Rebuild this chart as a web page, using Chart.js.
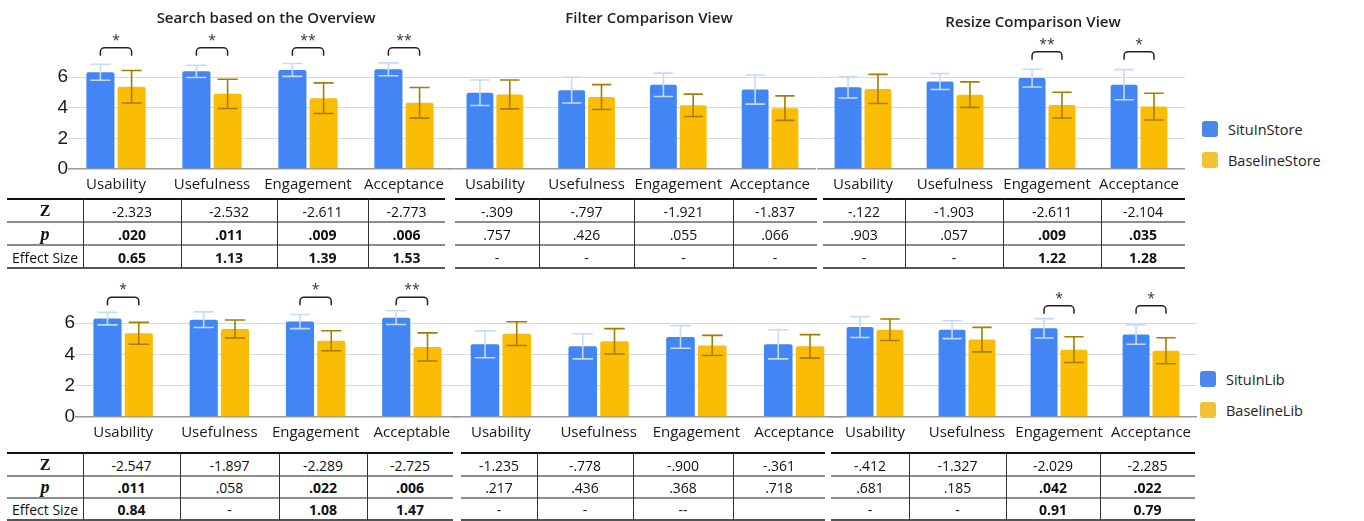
<!DOCTYPE html>
<html>
<head>
<meta charset="utf-8">
<script src="https://cdn.jsdelivr.net/npm/chart.js@4.4.1/dist/chart.umd.min.js"></script>
<style>
  body { margin: 0; background: #fff; width: 1364px; height: 521px; overflow: hidden; position: relative; font-family: 'Open Sans', sans-serif; }
  canvas { position: absolute; }
  .ttl { position: absolute; font-size: 15px; font-weight: 600; color: #222; transform: translate(-50%, -50%); white-space: nowrap; }
  .cell { position: absolute; display: flex; align-items: center; justify-content: center; font-size: 14px; color: #111; white-space: nowrap; }
  .cell.b { font-weight: 700; }
  .hl { position: absolute; }
  .vl { position: absolute; width: 1px; background: #333; }
  .lg { position: absolute; font-size: 14.5px; color: #222; transform: translateY(-50%); white-space: nowrap; }
  .sw { position: absolute; width: 16px; height: 16px; border-radius: 3px; }
</style>
</head>
<body>
<script>
// ---- data ----
const storeCats = ['Usability', 'Usefulness', 'Engagement', 'Acceptance'];
const libOverviewCats = ['Usability', 'Usefulness', 'Engagement', 'Acceptable'];
const titles = ['Search based on the Overview', 'Filter Comparison View', 'Resize Comparison View'];
const storeSeries = ['SituInStore', 'BaselineStore'];
const libSeries = ['SituInLib', 'BaselineLib'];
const yTicks = [0, 2, 4, 6];
const rowLabels = ['Z', 'p', 'Effect Size'];

// store row: means and error bars
const ovStoreSitu = [6.31, 6.37, 6.46, 6.50];
const ovStoreSituErr = [0.52, 0.40, 0.42, 0.42];
const ovStoreBase = [5.36, 4.90, 4.62, 4.32];
const ovStoreBaseErr = [1.06, 0.95, 1.00, 1.00];
const fiStoreSitu = [4.97, 5.14, 5.49, 5.18];
const fiStoreSituErr = [0.83, 0.84, 0.76, 0.95];
const fiStoreBase = [4.86, 4.69, 4.15, 3.97];
const fiStoreBaseErr = [0.94, 0.81, 0.73, 0.80];
const reStoreSitu = [5.33, 5.70, 5.93, 5.50];
const reStoreSituErr = [0.70, 0.52, 0.58, 0.98];
const reStoreBase = [5.22, 4.85, 4.17, 4.07];
const reStoreBaseErr = [0.95, 0.83, 0.84, 0.87];

// lib row
const ovLibSitu = [6.28, 6.21, 6.09, 6.34];
const ovLibSituErr = [0.40, 0.50, 0.45, 0.44];
const ovLibBase = [5.34, 5.62, 4.87, 4.47];
const ovLibBaseErr = [0.70, 0.57, 0.64, 0.90];
const fiLibSitu = [4.64, 4.51, 5.11, 4.64];
const fiLibSituErr = [0.86, 0.80, 0.72, 0.93];
const fiLibBase = [5.32, 4.83, 4.57, 4.51];
const fiLibBaseErr = [0.76, 0.81, 0.64, 0.75];
const reLibSitu = [5.74, 5.57, 5.66, 5.26];
const reLibSituErr = [0.67, 0.57, 0.62, 0.62];
const reLibBase = [5.57, 4.94, 4.30, 4.23];
const reLibBaseErr = [0.69, 0.78, 0.82, 0.83];

// significance marks
const ovStoreSig = ['*', '*', '**', '**'];
const fiStoreSig = ['', '', '', ''];
const reStoreSig = ['', '', '**', '*'];
const ovLibSig = ['*', '', '*', '**'];
const fiLibSig = ['', '', '', ''];
const reLibSig = ['', '', '*', '*'];

// test tables
const ovStoreZ = ['-2.323', '-2.532', '-2.611', '-2.773'];
const ovStoreP = ['.020', '.011', '.009', '.006'];
const ovStoreEff = ['0.65', '1.13', '1.39', '1.53'];
const fiStoreZ = ['-.309', '-.797', '-1.921', '-1.837'];
const fiStoreP = ['.757', '.426', '.055', '.066'];
const fiStoreEff = ['-', '-', '-', '-'];
const reStoreZ = ['-.122', '-1.903', '-2.611', '-2.104'];
const reStoreP = ['.903', '.057', '.009', '.035'];
const reStoreEff = ['-', '-', '1.22', '1.28'];
const ovLibZ = ['-2.547', '-1.897', '-2.289', '-2.725'];
const ovLibP = ['.011', '.058', '.022', '.006'];
const ovLibEff = ['0.84', '-', '1.08', '1.47'];
const fiLibZ = ['-1.235', '-.778', '-.900', '-.361'];
const fiLibP = ['.217', '.436', '.368', '.718'];
const fiLibEff = ['-', '-', '--', ''];
const reLibZ = ['-.412', '-1.327', '-2.029', '-2.285'];
const reLibP = ['.681', '.185', '.042', '.022'];
const reLibEff = ['-', '-', '0.91', '0.79'];

// ---- layout ----
const BLUE = '#4285f4', YELLOW = '#fbbc04';

const panels = [
  { cats: storeCats, names: storeSeries, a: ovStoreSitu, aErr: ovStoreSituErr, b: ovStoreBase, bErr: ovStoreBaseErr, sig: ovStoreSig, level: 7.9,  left: 0,   axisW: 68, right: 452,  top: 0,   h: 198, padTop: 31 },
  { cats: storeCats, names: storeSeries, a: fiStoreSitu, aErr: fiStoreSituErr, b: fiStoreBase, bErr: fiStoreBaseErr, sig: fiStoreSig, level: 7.7,  left: 449, axisW: 0,  right: 817,  top: 0,   h: 198, padTop: 31 },
  { cats: storeCats, names: storeSeries, a: reStoreSitu, aErr: reStoreSituErr, b: reStoreBase, bErr: reStoreBaseErr, sig: reStoreSig, level: 7.65, left: 817, axisW: 0,  right: 1186, top: 0,   h: 198, padTop: 31 },
  { cats: libOverviewCats, names: libSeries, a: ovLibSitu, aErr: ovLibSituErr, b: ovLibBase, bErr: ovLibBaseErr, sig: ovLibSig, level: 7.65, left: 0,   axisW: 75, right: 460,  top: 260, h: 186, padTop: 16 },
  { cats: storeCats, names: libSeries, a: fiLibSitu, aErr: fiLibSituErr, b: fiLibBase, bErr: fiLibBaseErr, sig: fiLibSig, level: 7.5,  left: 452, axisW: 0,  right: 843,  top: 260, h: 186, padTop: 16 },
  { cats: storeCats, names: libSeries, a: reLibSitu, aErr: reLibSituErr, b: reLibBase, bErr: reLibBaseErr, sig: reLibSig, level: 7.1,  left: 829, axisW: 0,  right: 1198, top: 260, h: 186, padTop: 16 }
];

const errorBars = {
  id: 'errorBars',
  afterDatasetsDraw(chart, args, opts) {
    const ctx = chart.ctx, y = chart.scales.y;
    chart.data.datasets.forEach((ds, i) => {
      const meta = chart.getDatasetMeta(i);
      ctx.save();
      ctx.strokeStyle = ds.errColor;
      ctx.lineWidth = 1.6;
      meta.data.forEach((bar, j) => {
        const hi = y.getPixelForValue(ds.data[j] + ds.err[j]);
        const lo = y.getPixelForValue(ds.data[j] - ds.err[j]);
        const w = bar.width * 0.36;
        ctx.beginPath();
        ctx.moveTo(bar.x, hi); ctx.lineTo(bar.x, lo);
        ctx.moveTo(bar.x - w, hi); ctx.lineTo(bar.x + w, hi);
        ctx.moveTo(bar.x - w, lo); ctx.lineTo(bar.x + w, lo);
        ctx.stroke();
      });
      ctx.restore();
    });
    // significance brackets
    const m0 = chart.getDatasetMeta(0).data, m1 = chart.getDatasetMeta(1).data;
    ctx.save();
    ctx.strokeStyle = '#222';
    ctx.lineWidth = 1.5;
    ctx.fillStyle = '#333';
    ctx.font = '14px "Open Sans"';
    ctx.textAlign = 'center';
    ctx.textBaseline = 'middle';
    opts.sig.forEach((s, j) => {
      if (!s) return;
      const x0 = m0[j].x, x1 = m1[j].x, yt = y.getPixelForValue(opts.level), r = 4;
      ctx.beginPath();
      ctx.moveTo(x0, yt + 8);
      ctx.arcTo(x0, yt, x0 + r, yt, r);
      ctx.arcTo(x1, yt, x1, yt + r, r);
      ctx.lineTo(x1, yt + 8);
      ctx.stroke();
      ctx.fillText(s, (x0 + x1) / 2, yt - 7);
    });
    ctx.restore();
  }
};

panels.forEach((p) => {
  const cv = document.createElement('canvas');
  const w = p.right - p.left;
  cv.width = w; cv.height = p.h;
  cv.style.left = p.left + 'px';
  cv.style.top = p.top + 'px';
  cv.style.width = w + 'px';
  cv.style.height = p.h + 'px';
  document.body.appendChild(cv);
  new Chart(cv, {
    type: 'bar',
    data: {
      labels: p.cats,
      datasets: [
        { label: p.names[0], data: p.a, err: p.aErr, errColor: '#c6dafc', backgroundColor: BLUE, borderRadius: 2, categoryPercentage: 0.65, barPercentage: 0.9 },
        { label: p.names[1], data: p.b, err: p.bErr, errColor: '#a57d00', backgroundColor: YELLOW, borderRadius: 2, categoryPercentage: 0.65, barPercentage: 0.9 }
      ]
    },
    options: {
      responsive: false,
      animation: false,
      devicePixelRatio: 1,
      layout: { padding: { top: p.padTop, left: 0, right: 0, bottom: 0 } },
      plugins: {
        legend: { display: false },
        tooltip: { enabled: false },
        errorBars: { sig: p.sig, level: p.level }
      },
      scales: {
        x: {
          afterFit: (s) => { s.height = 29; },
          grid: { display: false, drawTicks: false },
          border: { display: false },
          ticks: { padding: 7, maxRotation: 0, autoSkip: false, color: '#1a1a1a', font: { family: 'Open Sans', size: 15 } }
        },
        y: {
          min: 0, max: 9,
          afterBuildTicks: (s) => { s.ticks = yTicks.map((v) => ({ value: v })); },
          afterFit: (s) => { s.width = p.axisW; },
          border: { display: false },
          grid: {
            drawTicks: false,
            color: (c) => (c.tick && c.tick.value === 0 ? '#9a9a9a' : '#d9d9d9'),
            lineWidth: (c) => (c.tick && c.tick.value === 0 ? 1.5 : 1)
          },
          ticks: { display: p.axisW > 0, padding: 0, color: '#1a1a1a', font: { family: 'Liberation Sans', size: 19 } }
        }
      }
    },
    plugins: [errorBars]
  });
});

// titles
[[266, 17], [649, 17], [1033, 21]].forEach((pos, i) => {
  const d = document.createElement('div');
  d.className = 'ttl';
  d.style.left = pos[0] + 'px';
  d.style.top = pos[1] + 'px';
  d.textContent = titles[i];
  document.body.appendChild(d);
});

// legends
function legend(names, x, ys) {
  ['#4a86ec', '#f1c232'].forEach((c, i) => {
    const sw = document.createElement('div');
    sw.className = 'sw';
    sw.style.background = c;
    sw.style.left = x + 'px';
    sw.style.top = (ys[i] - 8) + 'px';
    document.body.appendChild(sw);
    const t = document.createElement('div');
    t.className = 'lg';
    t.style.left = (x + 26) + 'px';
    t.style.top = ys[i] + 'px';
    t.textContent = names[i];
    document.body.appendChild(t);
  });
}
legend(storeSeries, 1202, [129, 160]);
legend(libSeries, 1200, [379, 410]);

// tables
const tables = [
  { cols: [7, 83, 181, 277, 368, 445], lines: [199, 222, 245, 268], rows: [ovStoreZ, ovStoreP, ovStoreEff], head: true },
  { cols: [455, 539, 634, 733, 817], lines: [199, 222, 245, 268], rows: [fiStoreZ, fiStoreP, fiStoreEff] },
  { cols: [823, 905, 1003, 1101, 1185], lines: [199, 222, 245, 268], rows: [reStoreZ, reStoreP, reStoreEff] },
  { cols: [7, 83, 180, 279, 367, 453], lines: [453, 476, 498, 520], rows: [ovLibZ, ovLibP, ovLibEff], head: true },
  { cols: [461, 537, 633, 733, 825], lines: [453, 476, 498, 520], rows: [fiLibZ, fiLibP, fiLibEff] },
  { cols: [831, 909, 1006, 1100, 1195], lines: [453, 476, 498, 520], rows: [reLibZ, reLibP, reLibEff] }
];

function el(cls, l, t, w, h, txt) {
  const d = document.createElement('div');
  d.className = cls;
  d.style.left = l + 'px'; d.style.top = t + 'px';
  d.style.width = w + 'px'; d.style.height = h + 'px';
  if (txt !== undefined) d.textContent = txt;
  document.body.appendChild(d);
  return d;
}

tables.forEach((t) => {
  const x0 = t.cols[0], x1 = t.cols[t.cols.length - 1];
  const sigCol = t.rows[1].map((p) => parseFloat(p) < 0.05);
  t.lines.forEach((ly, i) => {
    const h = el('hl', x0, ly - 1, x1 - x0, i === 0 ? 1.5 : 2);
    h.style.background = i === 0 ? '#111' : (i === t.lines.length - 1 ? '#555' : '#8c8c8c');
  });
  t.cols.slice(1, -1).forEach((cx) => el('vl', cx, t.lines[0], 1, t.lines[3] - t.lines[0]));
  const dataCols = t.head ? t.cols.slice(1) : t.cols;
  for (let r = 0; r < 3; r++) {
    const top = t.lines[r] + 1, h = t.lines[r + 1] - t.lines[r] - 1;
    if (t.head) {
      const c = el('cell', t.cols[0], top, t.cols[1] - t.cols[0], h, rowLabels[r]);
      if (r === 0) { c.style.fontFamily = 'Liberation Serif'; c.style.fontWeight = '700'; c.style.fontSize = '16px'; }
      if (r === 1) { c.style.fontFamily = 'Liberation Serif'; c.style.fontWeight = '700'; c.style.fontStyle = 'italic'; c.style.fontSize = '18px'; }
    }
    for (let k = 0; k < 4; k++) {
      const c = el('cell', dataCols[k], top, dataCols[k + 1] - dataCols[k], h, t.rows[r][k]);
      if (r > 0 && sigCol[k]) c.classList.add('b');
    }
  }
});
</script>
</body>
</html>
